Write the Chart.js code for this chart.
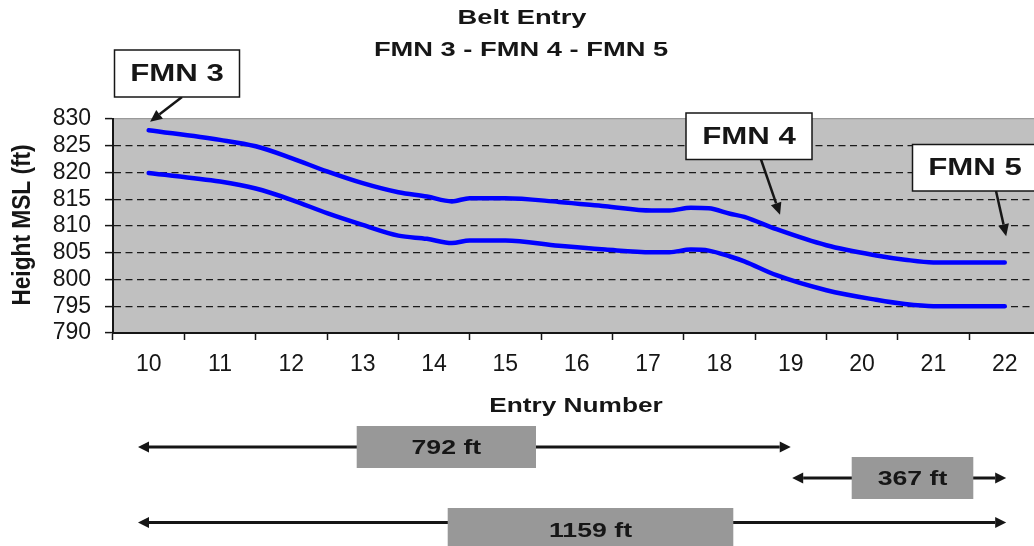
<!DOCTYPE html>
<html>
<head>
<meta charset="utf-8">
<title>Belt Entry - FMN 3 - FMN 4 - FMN 5</title>
<script src="https://cdn.jsdelivr.net/npm/chart.js@4/dist/chart.umd.min.js"></script>
<style>
    html, body { margin: 0; padding: 0; background: #fff; overflow: hidden; }
    #wrap { position: relative; width: 1034px; height: 546px; }
</style>
</head>
<body>
<div id="wrap"><canvas id="beltChart"></canvas></div>
<script>
// DATA
const entryTicks = [10, 11, 12, 13, 14, 15, 16, 17, 18, 19, 20, 21, 22];
const heightTicks = [790, 795, 800, 805, 810, 815, 820, 825, 830];

const entries = [10, 11, 11.5, 12, 12.5, 13, 13.5, 13.9, 14.25, 14.5, 15, 15.75, 16.4, 17.05, 17.3, 17.6, 17.85, 18.15, 18.35, 18.8, 19.5, 20.2, 20.6, 21, 22];
const roofHeight = [827.9, 826.1, 824.9, 822.7, 820.2, 818.0, 816.3, 815.5, 814.6, 815.2, 815.2, 814.5, 813.7, 812.9, 812.9, 813.4, 813.3, 812.3, 811.7, 809.4, 806.4, 804.5, 803.7, 803.2, 803.2];
const floorHeight = [819.9, 818.3, 817.0, 814.9, 812.4, 810.2, 808.2, 807.6, 806.8, 807.3, 807.3, 806.3, 805.6, 805.1, 805.1, 805.6, 805.4, 804.3, 803.4, 800.8, 798.0, 796.2, 795.4, 795.0, 795.0];

const calloutLabels = ['FMN 3', 'FMN 4', 'FMN 5'];
const calloutEntry = [10.02, 18.85, 22.02];
const calloutHeight = [829.5, 812.1, 808.1];

const spanLabels = ['792 ft', '367 ft', '1159 ft'];
const spanFrom = [9.85, 19.02, 9.85];
const spanTo = [19.0, 22.02, 22.02];

// LAYOUT (pixels)
const calloutBoxes = [
    { x: 114.5, y: 50, w: 125, h: 47, ax: 182 },
    { x: 686, y: 113, w: 126, h: 46.5, ax: 761 },
    { x: 912.5, y: 144.5, w: 125, h: 46.5, ax: 996 },
];
const spanRows = [
    { y: 447, bx: 356.7, bw: 179.3, by: 426, bh: 42 },
    { y: 478, bx: 851.7, bw: 121.6, by: 457, bh: 42 },
    { y: 522.5, bx: 447.7, bw: 285.6, by: 508, bh: 44 },
];

const FONT = "'Liberation Sans', Arial, sans-serif";
const INK = '#161616';

// the source picture is stretched sideways, so the drawn labels are too
function wideText(ctx, text, cx, cy, font, sx, sy) {
    ctx.save();
    ctx.translate(cx, cy);
    ctx.scale(sx, sy || 1);
    ctx.font = font;
    ctx.textAlign = 'center';
    ctx.textBaseline = 'middle';
    ctx.fillStyle = INK;
    ctx.fillText(text, 0, 0);
    ctx.restore();
}

function arrow(ctx, x1, y1, x2, y2, width, headLen, headHalf) {
    const ang = Math.atan2(y2 - y1, x2 - x1);
    const bx = x2 - Math.cos(ang) * headLen;
    const by = y2 - Math.sin(ang) * headLen;
    ctx.strokeStyle = INK;
    ctx.fillStyle = INK;
    ctx.lineWidth = width;
    ctx.beginPath();
    ctx.moveTo(x1, y1);
    ctx.lineTo(bx, by);
    ctx.stroke();
    ctx.beginPath();
    ctx.moveTo(x2, y2);
    ctx.lineTo(bx + Math.sin(ang) * headHalf, by - Math.cos(ang) * headHalf);
    ctx.lineTo(bx - Math.sin(ang) * headHalf, by + Math.cos(ang) * headHalf);
    ctx.closePath();
    ctx.fill();
}

const annotate = {
    id: 'annotate',
    beforeDraw(chart) {
        const { ctx, chartArea: a } = chart;
        ctx.save();
        ctx.fillStyle = '#c0c0c0';
        ctx.fillRect(a.left, a.top, a.right - a.left, a.bottom - a.top);
        ctx.restore();
    },
    afterDraw(chart) {
        const ctx = chart.ctx;
        const xs = chart.scales.x;
        const ys = chart.scales.y;
        ctx.save();

        // titles
        wideText(ctx, 'Belt Entry', 522, 18, 'bold 21px ' + FONT, 1.3);
        wideText(ctx, 'FMN 3 - FMN 4 - FMN 5', 521, 50, 'bold 21px ' + FONT, 1.3);
        wideText(ctx, 'Entry Number', 576, 406, 'bold 21px ' + FONT, 1.25);

        ctx.save();
        ctx.translate(23, 225);
        ctx.rotate(-Math.PI / 2);
        wideText(ctx, 'Height MSL (ft)', 0, 0, 'bold 21px ' + FONT, 1.08, 1.22);
        ctx.restore();

        // callouts
        for (let i = 0; i < calloutLabels.length; i++) {
            const b = calloutBoxes[i];
            const tipX = xs.getPixelForValue(calloutEntry[i]);
            const tipY = ys.getPixelForValue(calloutHeight[i]);
            arrow(ctx, b.ax, b.y + b.h, tipX, tipY, 2.5, 12, 5.5);
            ctx.fillStyle = '#fff';
            ctx.fillRect(b.x, b.y, b.w, b.h);
            ctx.strokeStyle = INK;
            ctx.lineWidth = 1.5;
            ctx.strokeRect(b.x, b.y, b.w, b.h);
            wideText(ctx, calloutLabels[i], b.x + b.w / 2, b.y + b.h / 2 + 1, 'bold 24px ' + FONT, 1.3);
        }

        // distance spans
        for (let i = 0; i < spanLabels.length; i++) {
            const r = spanRows[i];
            const x1 = xs.getPixelForValue(spanFrom[i]);
            const x2 = xs.getPixelForValue(spanTo[i]);
            const mid = r.bx + r.bw / 2;
            arrow(ctx, mid, r.y, x1, r.y, 3, 11, 5.5);
            arrow(ctx, mid, r.y, x2, r.y, 3, 11, 5.5);
            ctx.fillStyle = '#989898';
            ctx.fillRect(r.bx, r.by, r.bw, r.bh);
            wideText(ctx, spanLabels[i], mid, r.by + r.bh / 2 + 1, 'bold 21px ' + FONT, 1.27);
        }

        ctx.restore();
    }
};

const beltChart = document.getElementById('beltChart');

const beltData = {
    datasets: [
        {
            label: 'Roof',
            data: entries.map((e, i) => ({ x: e, y: roofHeight[i] })),
        },
        {
            label: 'Floor',
            data: entries.map((e, i) => ({ x: e, y: floorHeight[i] })),
        }
    ]
};

const beltConfig = {
    type: 'line',
    data: beltData,
    plugins: [annotate],
    options: {
        responsive: true,
        maintainAspectRatio: false,
        animation: false,
        layout: {
            padding: { top: 119, left: 0, right: 0, bottom: 123 },
        },
        elements: {
            line: {
                borderColor: '#0000ff',
                borderWidth: 4.5,
                borderCapStyle: 'round',
                borderJoinStyle: 'round',
                cubicInterpolationMode: 'monotone',
                fill: false,
            },
            point: { radius: 0, hoverRadius: 0 },
        },
        plugins: {
            legend: { display: false },
            title: { display: false },
            tooltip: { enabled: false },
        },
        scales: {
            x: {
                type: 'linear',
                min: 9.5,
                max: 22.41,
                afterBuildTicks: (axis) => {
                    axis.ticks = entryTicks.map(v => ({ value: v }));
                },
                afterFit: (axis) => {
                    axis.height = 90;
                },
                ticks: {
                    font: { family: FONT, size: 23 },
                    color: INK,
                    padding: 11,
                    maxRotation: 0,
                    autoSkip: false,
                },
                grid: {
                    drawOnChartArea: false,
                    offset: true,
                    tickLength: 7,
                    tickWidth: 1.5,
                    tickColor: INK,
                },
                border: { color: INK, width: 2 },
            },
            y: {
                min: heightTicks[0],
                max: heightTicks[heightTicks.length - 1],
                afterBuildTicks: (axis) => {
                    axis.ticks = heightTicks.map(v => ({ value: v }));
                },
                afterFit: (axis) => {
                    axis.width = 113;
                },
                ticks: {
                    font: { family: FONT, size: 23 },
                    color: INK,
                    padding: 14,
                    autoSkip: false,
                },
                grid: {
                    color: (c) => {
                        if (c.tick.value === 830) return '#9a9a9a';
                        if (c.tick.value === 790) return 'rgba(0,0,0,0)';
                        return '#1a1a1a';
                    },
                    lineWidth: 1.2,
                    tickLength: 8,
                    tickWidth: 1.5,
                    tickColor: INK,
                },
                border: {
                    color: INK,
                    width: 2,
                    dash: (c) => (c.type === 'tick' && c.tick.value < 830) ? [7, 4.5] : [],
                },
            },
        },
    },
};

new Chart(beltChart, beltConfig);
</script>
</body>
</html>
